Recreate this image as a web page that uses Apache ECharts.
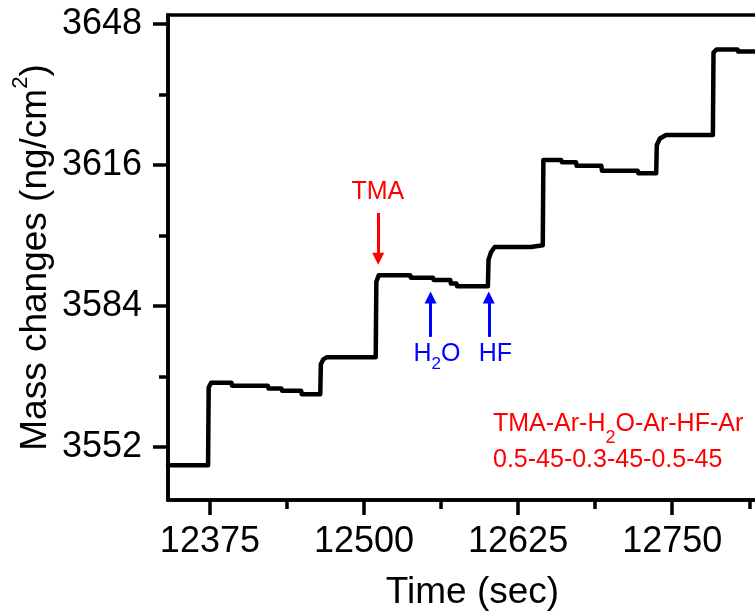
<!DOCTYPE html>
<html>
<head>
<meta charset="utf-8">
<script src="https://cdn.jsdelivr.net/npm/echarts@6/dist/echarts.min.js"></script>
<style>
  html, body { margin: 0; padding: 0; background: #fff; }
  #chart { width: 755px; height: 611px; }
</style>
</head>
<body>
<div id="chart"></div>
<script>
// time (sec) and mass (ng/cm2)
var timeSec = [12341, 12373.5, 12374, 12376, 12392.5, 12393, 12422, 12422.5, 12433, 12433.5,
    12449, 12449.5, 12464.5, 12465, 12467, 12470, 12509.5, 12510, 12512, 12537.5,
    12538, 12556, 12556.5, 12570, 12570.5, 12575, 12575.5, 12600.5, 12601, 12603,
    12606, 12635.5, 12636, 12645, 12645.5, 12660, 12660.5, 12672, 12672.5, 12692.5,
    12693, 12722, 12722.5, 12737, 12737.5, 12740, 12745, 12783, 12783.5, 12786,
    12803, 12803.5, 12835];
var massVals = [3547.9, 3547.9, 3565.5, 3566.6, 3566.6, 3565.9, 3565.9, 3565.3, 3565.3, 3564.8,
    3564.8, 3564.0, 3564.0, 3570.8, 3571.9, 3572.4, 3572.4, 3589.5, 3591.0, 3591.0,
    3590.4, 3590.4, 3589.9, 3589.9, 3589.1, 3589.1, 3588.5, 3588.5, 3594.5, 3596.2,
    3597.4, 3597.4, 3597.8, 3597.8, 3617.1, 3617.1, 3616.6, 3616.6, 3615.8, 3615.8,
    3614.7, 3614.7, 3614.1, 3614.1, 3620.5, 3622.0, 3622.8, 3622.8, 3641.5, 3642.2,
    3642.2, 3641.7, 3641.7];

var xMajorTicks = [12375, 12500, 12625, 12750];
var xMinorTicks = [12437.5, 12562.5, 12687.5, 12812.5];
var yMajorTicks = [3552, 3584, 3616, 3648];
var yMinorTicks = [3568, 3600, 3632];

// arrows: time, tail mass, head mass
var arrowTime = [12511.5, 12554, 12601.2];
var arrowFrom = [3605.1, 3577.0, 3577.0];
var arrowTo = [3594.7, 3585.9, 3585.9];

// gas labels next to the arrows
var noteText = ['TMA', 'H{s|2}O', 'HF'];
var noteTime = [12511.2, 12559.1, 12606.5];
var noteMass = [3609.9, 3573.1, 3573.1];

var recipeLines = ['TMA-Ar-H{s|2}O-Ar-HF-Ar', '0.5-45-0.3-45-0.5-45'];

var FONT = '"Liberation Sans", Arial, sans-serif';
var RED = '#ff0000', BLUE = '#0000ff';

var seriesData = timeSec.map(function (t, i) { return [t, massVals[i]]; });
var arrowColors = [RED, BLUE, BLUE];
var arrowLines = arrowTime.map(function (t, i) {
    return [
        { coord: [t, arrowFrom[i]], lineStyle: { color: arrowColors[i], width: 3, type: 'solid' },
          itemStyle: { color: arrowColors[i] } },
        { coord: [t, arrowTo[i]], itemStyle: { color: arrowColors[i] } }
    ];
});

var axisLineStyle = { color: '#000', width: 3.5 };
var plainNum = function (v) { return String(v); };

var option = {
    animation: false,
    backgroundColor: '#fff',
    grid: {
        left: 168, top: 15, right: -22, bottom: 111,
        outerBoundsMode: 'none', containLabel: false,
        show: true, borderColor: '#000', borderWidth: 3.5
    },
    xAxis: [
        {
            type: 'value', min: 12341, max: 12835, position: 'bottom',
            axisLine: { lineStyle: axisLineStyle },
            axisTick: { customValues: xMajorTicks, length: 15, lineStyle: axisLineStyle },
            axisLabel: { customValues: xMajorTicks, formatter: plainNum, margin: 24, fontSize: 36, color: '#000', fontFamily: FONT },
            splitLine: { show: false },
            name: 'Time (sec)', nameLocation: 'middle', nameGap: 74, nameMoveOverlap: false,
            nameTextStyle: { fontSize: 37, color: '#000', fontFamily: FONT }
        },
        {
            type: 'value', min: 12341, max: 12835, position: 'bottom',
            axisLine: { show: false },
            axisTick: { customValues: xMinorTicks, length: 9, lineStyle: axisLineStyle },
            axisLabel: { show: false },
            splitLine: { show: false }
        }
    ],
    yAxis: [
        {
            type: 'value', min: 3540, max: 3650, position: 'left',
            axisLine: { show: true, lineStyle: axisLineStyle },
            axisTick: { show: true, customValues: yMajorTicks, length: 15, lineStyle: axisLineStyle },
            axisLabel: { customValues: yMajorTicks, formatter: plainNum, margin: 26, fontSize: 36, color: '#000', fontFamily: FONT },
            splitLine: { show: false },
            name: 'Mass changes (ng/cm{sup|2})', nameLocation: 'middle', nameGap: 106, nameMoveOverlap: false,
            nameTextStyle: {
                fontSize: 37, lineHeight: 52, color: '#000', fontFamily: FONT,
                rich: { sup: { fontSize: 22, lineHeight: 22, verticalAlign: 'top', color: '#000', fontFamily: FONT } }
            }
        },
        {
            type: 'value', min: 3540, max: 3650, position: 'left',
            axisLine: { show: false },
            axisTick: { show: true, customValues: yMinorTicks, length: 9, lineStyle: axisLineStyle },
            axisLabel: { show: false },
            splitLine: { show: false }
        }
    ],
    series: [
        {
            type: 'line',
            data: seriesData,
            showSymbol: false,
            lineStyle: { color: '#000', width: 4.5, join: 'round', cap: 'round' },
            markLine: {
                silent: true,
                symbol: ['none', 'triangle'],
                symbolSize: 12,
                label: { show: false },
                data: arrowLines
            }
        }
    ]
};

var chart = echarts.init(document.getElementById('chart'), null, { renderer: 'canvas' });
chart.setOption(option);

// text annotations placed through the axis scales
var subStyle = { s: { fontSize: 17, lineHeight: 17, verticalAlign: 'bottom', fontFamily: FONT } };
var graphics = noteText.map(function (txt, i) {
    var p = chart.convertToPixel({ xAxisIndex: 0, yAxisIndex: 0 }, [noteTime[i], noteMass[i]]);
    return {
        type: 'text', x: p[0], y: p[1], silent: true,
        style: {
            text: txt, fill: i === 0 ? RED : BLUE, fontSize: 25, fontFamily: FONT,
            lineHeight: 37, align: 'center', verticalAlign: 'middle', rich: subStyle
        }
    };
});
graphics.push({
    type: 'text', x: 493, y: 424, silent: true,
    style: {
        text: recipeLines[0], fill: RED, fontSize: 25, fontFamily: FONT, lineHeight: 46,
        align: 'left', verticalAlign: 'middle',
        rich: { s: { fontSize: 18, lineHeight: 18, verticalAlign: 'bottom', fontFamily: FONT } }
    }
});
graphics.push({
    type: 'text', x: 493, y: 460, silent: true,
    style: { text: recipeLines[1], fill: RED, fontSize: 25, fontFamily: FONT, align: 'left', verticalAlign: 'middle' }
});
chart.setOption({ graphic: graphics });
</script>
</body>
</html>
